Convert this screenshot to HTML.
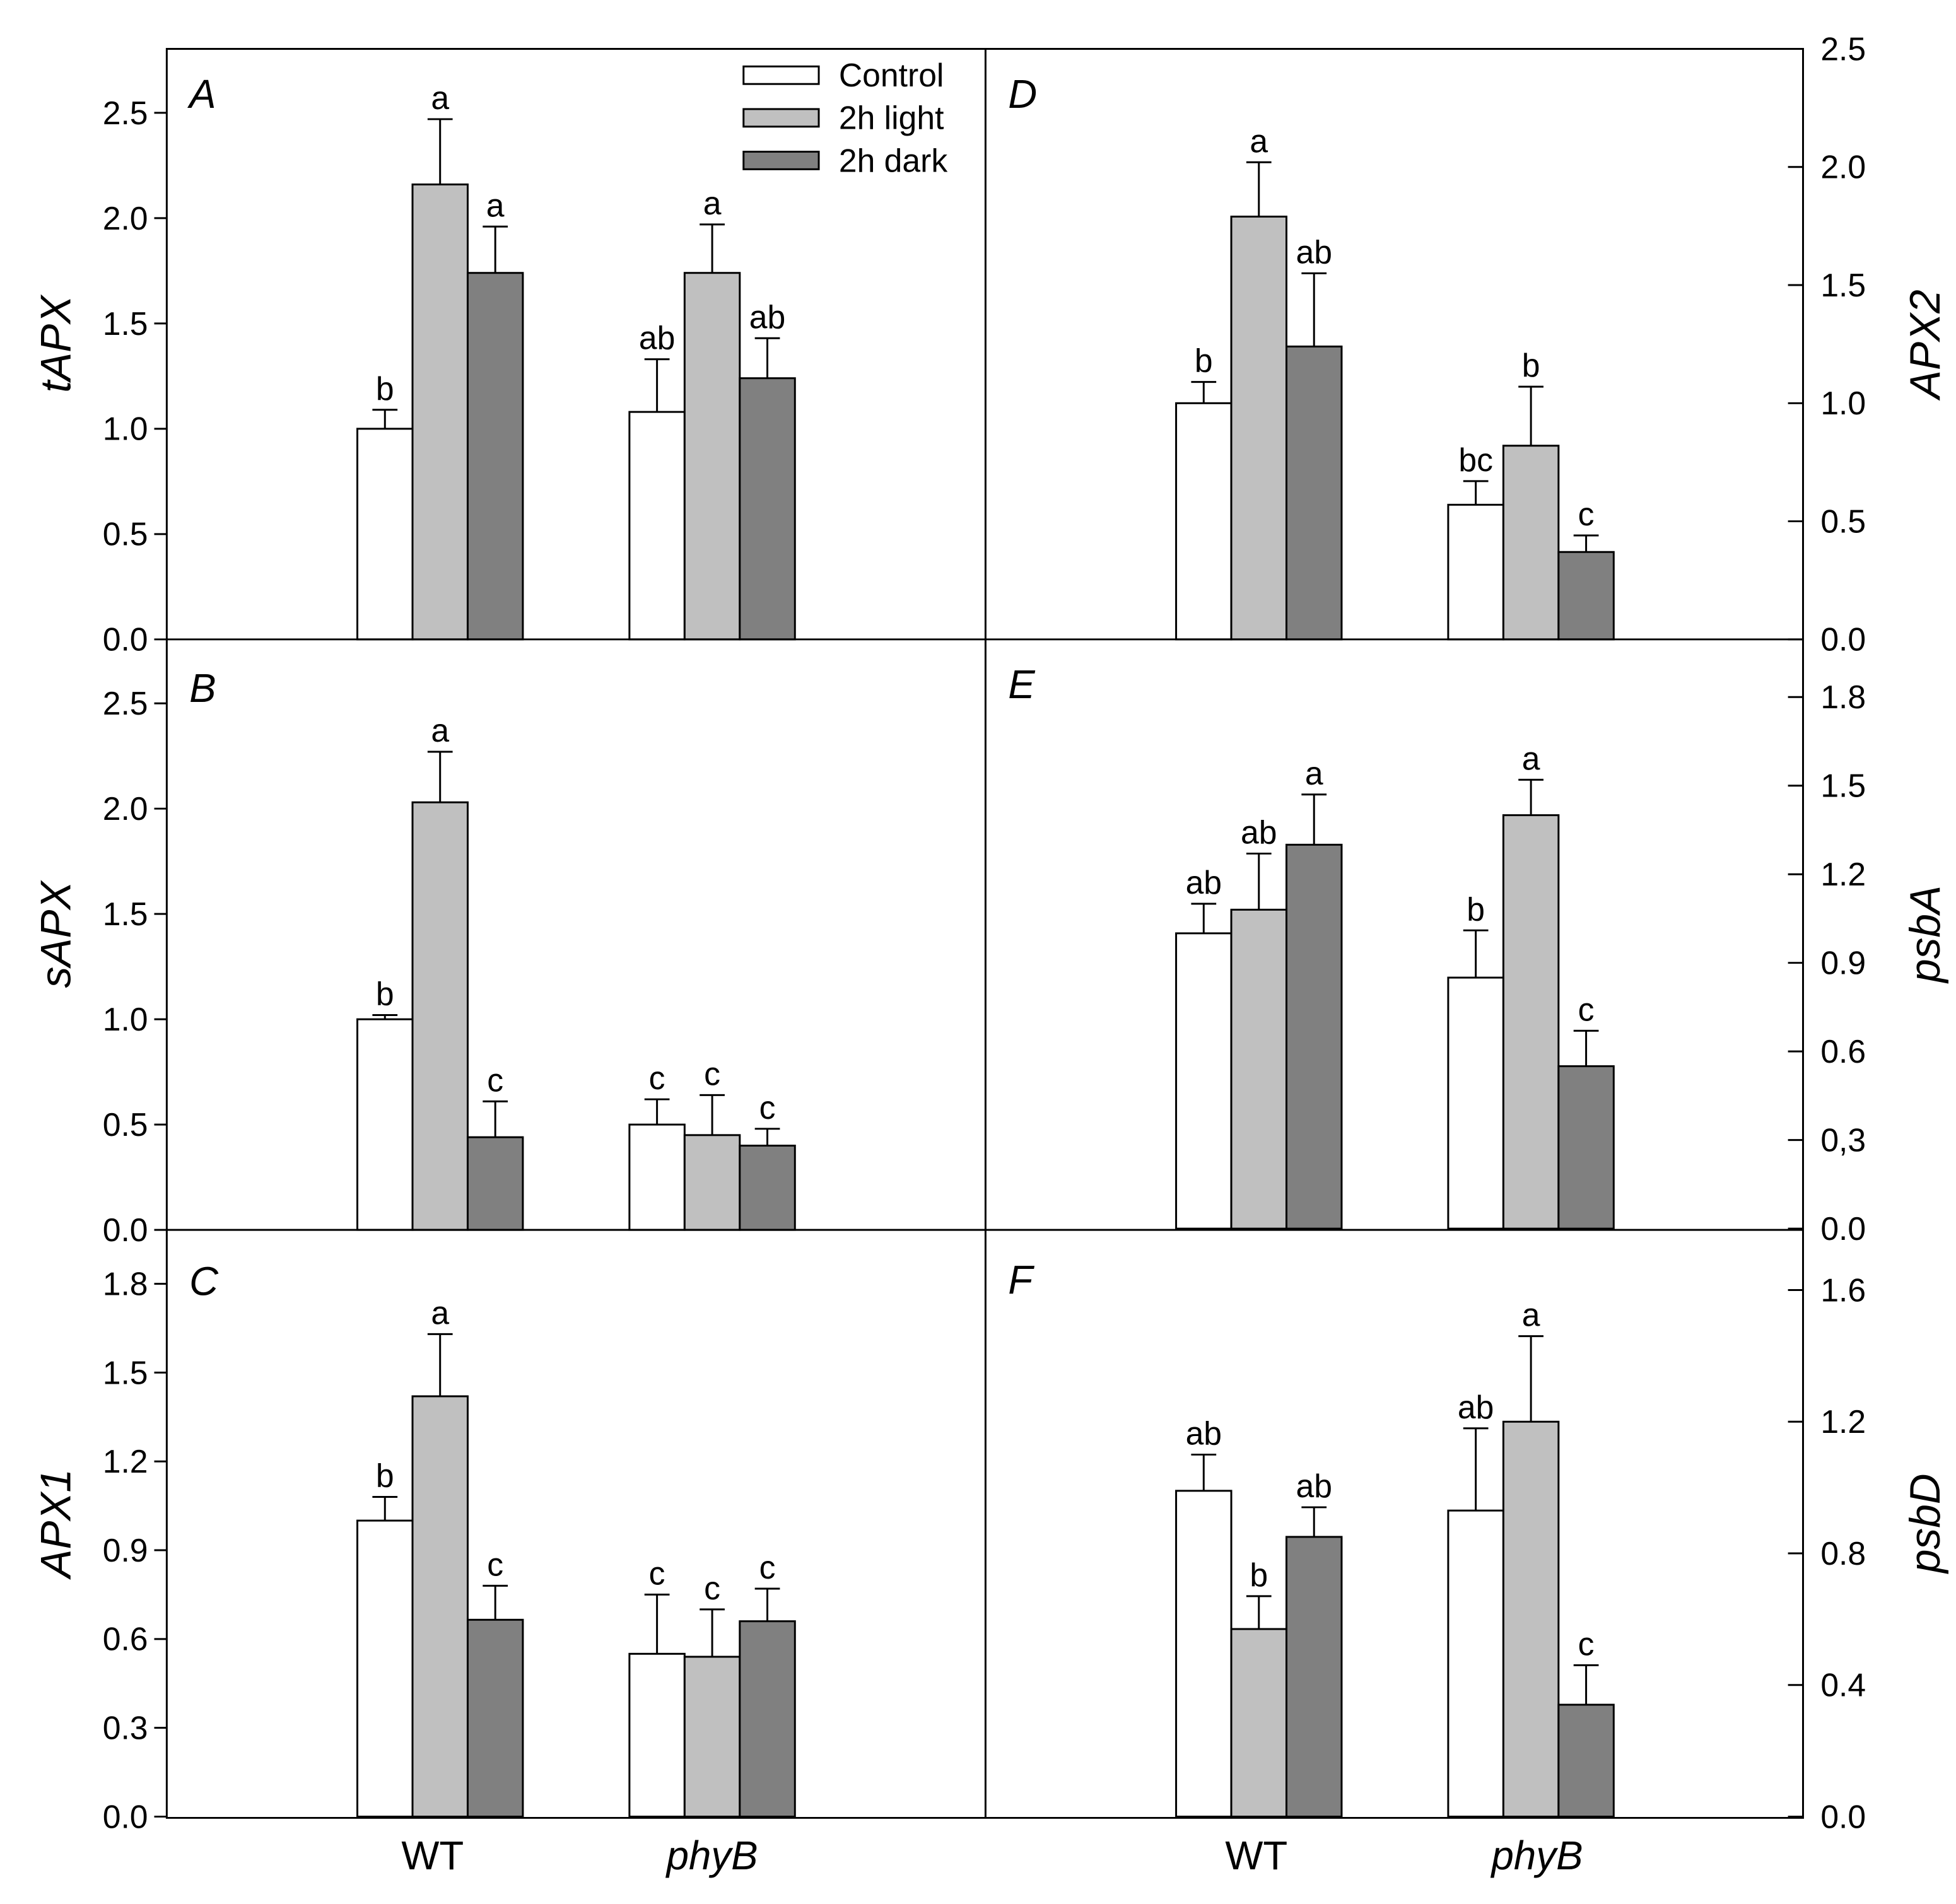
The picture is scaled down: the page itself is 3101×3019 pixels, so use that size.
<!DOCTYPE html>
<html><head><meta charset="utf-8"><style>
html,body{margin:0;padding:0;background:#fff}
svg{display:block}
text{font-family:"Liberation Sans",Arial,sans-serif;fill:#000}
</style></head><body>
<svg id="chart" width="3101" height="3019" viewBox="0 0 1560 1518.7" preserveAspectRatio="none" xmlns="http://www.w3.org/2000/svg"></svg>
<script>
const groups = ["WT", "phyB"];
const seriesNames = ["Control", "2h light", "2h dark"];
const seriesColors = ["#ffffff", "#c0c0c0", "#808080"];
const panelIds = ["A","B","C","D","E","F"];
const panelTitles = ["tAPX","sAPX","APX1","APX2","psbA","psbD"];
const valsA = [[1.0,2.16,1.74],[1.08,1.74,1.24]];
const errA  = [[1.09,2.47,1.96],[1.33,1.97,1.43]];
const letA  = [["b","a","a"],["ab","a","ab"]];
const valsB = [[1.0,2.03,0.44],[0.5,0.45,0.40]];
const errB  = [[1.02,2.27,0.61],[0.62,0.64,0.48]];
const letB  = [["b","a","c"],["c","c","c"]];
const valsC = [[1.0,1.42,0.665],[0.55,0.54,0.66]];
const errC  = [[1.08,1.63,0.78],[0.75,0.70,0.77]];
const letC  = [["b","a","c"],["c","c","c"]];
const valsD = [[1.0,1.79,1.24],[0.57,0.82,0.37]];
const errD  = [[1.09,2.02,1.55],[0.67,1.07,0.44]];
const letD  = [["b","a","ab"],["bc","b","c"]];
const valsE = [[1.0,1.08,1.30],[0.85,1.40,0.55]];
const errE  = [[1.10,1.27,1.47],[1.01,1.52,0.67]];
const letE  = [["ab","ab","a"],["b","a","c"]];
const valsF = [[0.99,0.57,0.85],[0.93,1.20,0.34]];
const errF  = [[1.10,0.67,0.94],[1.18,1.46,0.46]];
const letF  = [["ab","b","ab"],["ab","a","c"]];
const ticksA = ["0.0","0.5","1.0","1.5","2.0","2.5"];
const ticksB = ["0.0","0.5","1.0","1.5","2.0","2.5"];
const ticksC = ["0.0","0.3","0.6","0.9","1.2","1.5","1.8"];
const ticksD = ["0.0","0.5","1.0","1.5","2.0","2.5"];
const ticksE = ["0.0","0,3","0.6","0.9","1.2","1.5","1.8"];
const ticksF = ["0.0","0.4","0.8","1.2","1.6"];

const NS="http://www.w3.org/2000/svg";
const svg=document.getElementById('chart');
function mk(tag,attrs,parent){const e=document.createElementNS(NS,tag);for(const k in attrs)e.setAttribute(k,attrs[k]);(parent||svg).appendChild(e);return e;}

const panels=[
 {v:valsA,e:errA,l:letA,t:ticksA,max:2.5,top:90,bot:510,x0:133,right:false},
 {v:valsB,e:errB,l:letB,t:ticksB,max:2.5,top:561,bot:981,x0:133,right:false},
 {v:valsC,e:errC,l:letC,t:ticksC,max:1.8,top:1024,bot:1449,x0:133,right:false},
 {v:valsD,e:errD,l:letD,t:ticksD,max:2.5,top:39,bot:510,x0:786,right:true},
 {v:valsE,e:errE,l:letE,t:ticksE,max:1.8,top:556,bot:980,x0:786,right:true},
 {v:valsF,e:errF,l:letF,t:ticksF,max:1.6,top:1029,bot:1449,x0:786,right:true}
];
const bw=44;
panels.forEach((p,pi)=>{
  const g=mk('g',{});
  
  
  const y=v=>p.bot-(v/p.max)*(p.bot-p.top);
  const gx=[p.x0+152,p.x0+369];
  // ticks
  p.t.forEach((lab,i)=>{
    const val=parseFloat(lab.replace(',','.'));
    const ty=y(val);
    const tk=mk('line',{x1:p.right?1426:123,x2:p.right?1438:133,y1:ty,y2:ty,stroke:'#000','stroke-width':1.5},g);
    
    
    const tl=mk('text',{x:p.right?1452:118,y:ty+9,'font-size':26,'text-anchor':p.right?'start':'end'},g);
    tl.textContent=lab;
    
    
  });
  // bars
  p.v.forEach((grp,gi)=>{
    grp.forEach((val,si)=>{
      const bx=gx[gi]+si*bw;
      const r=mk('rect',{x:bx,y:y(val),width:bw,height:p.bot-y(val),fill:seriesColors[si],stroke:'#000','stroke-width':1.5},g);
      
      
      const cx=bx+bw/2, ey=y(p.e[gi][si]);
      const el=mk('path',{d:`M${cx},${y(val)}V${ey}M${cx-10},${ey}H${cx+10}`,stroke:'#000','stroke-width':1.5,fill:'none'},g);
      
      
      const lt=mk('text',{x:cx,y:ey-8,'font-size':26,'text-anchor':'middle'},g);
      lt.textContent=p.l[gi][si];
      
      
    });
  });
  const pl=mk('text',{x:p.x0+18,y:p.top===39?86:(pi===1?560:(pi===2?1033:(pi===4?557:1032))),'font-size':32,'font-style':'italic'},g);
  if(pi===0) pl.setAttribute('y',86);
  if(pi===3) pl.setAttribute('y',86);
  pl.textContent=panelIds[pi];
  
  
  const mid=(p.bot+(pi%3===0?39:(pi%3===1?510:981)))/2;
  const yt=mk('text',{x:0,y:0,'font-size':34,'font-style':'italic','text-anchor':'middle',transform:`translate(${p.right?1547:56},${mid}) rotate(-90)`},g);
  yt.textContent=panelTitles[pi];
  
  
});
// frame
const fr=mk('path',{d:'M133,39H1438V1450H133Z M786,39V1450 M133,510H1438 M133,981H1438',stroke:'#000','stroke-width':1.5,fill:'none'});


// x labels
[[345,'WT',false],[568,'phyB',true],[1002,'WT',false],[1226,'phyB',true]].forEach(d=>{
  const t=mk('text',{x:d[0],y:1491,'font-size':32,'text-anchor':'middle','font-style':d[2]?'italic':'normal'});
  t.textContent=d[1];
  
  
});
// legend
const lg=mk('g',{});


seriesNames.forEach((n,i)=>{
  const yy=53+i*34;
  const r=mk('rect',{x:593,y:yy,width:60,height:14,fill:seriesColors[i],stroke:'#000','stroke-width':1.5},lg);
  
  
  const t=mk('text',{x:669,y:yy+16,'font-size':26},lg);
  t.textContent=n;
  
  
});
</script>
</body></html>
